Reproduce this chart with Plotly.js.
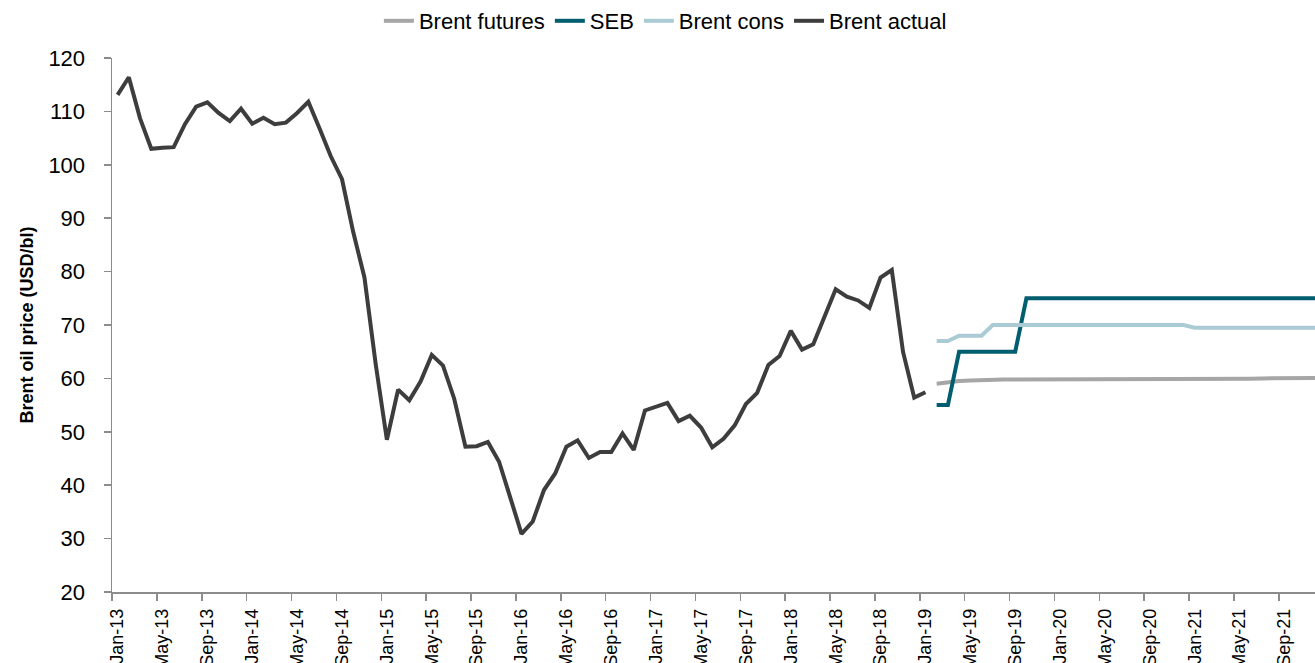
<!DOCTYPE html>
<html>
<head>
<meta charset="utf-8">
<script src="https://cdn.plot.ly/plotly-3.0.1.min.js"></script>
<style>
  html, body { margin: 0; padding: 0; background: #ffffff; overflow: hidden; }
  #chart { width: 1315px; height: 663px; }
</style>
</head>
<body>
<div id="chart"></div>
<script>
// Monthly Brent price history, Jan-13 .. Jan-19 (USD/bl)
const actualPrices = [
  113.1, 116.4, 108.7, 103.0, 103.2, 103.3, 107.6, 110.9, 111.7, 109.7, 108.2, 110.5,
  107.7, 108.8, 107.6, 107.9, 109.7, 111.8, 106.8, 101.6, 97.3, 87.4, 78.9, 62.7,
  48.5, 57.9, 55.9, 59.4, 64.4, 62.4, 56.2, 47.2, 47.3, 48.1, 44.4, 37.8,
  30.9, 33.2, 39.1, 42.2, 47.2, 48.4, 45.1, 46.2, 46.2, 49.7, 46.6, 54.0,
  54.8, 55.4, 52.0, 53.0, 50.8, 47.1, 48.7, 51.2, 55.2, 57.3, 62.5, 64.2,
  68.9, 65.4, 66.4, 71.6, 76.7, 75.3, 74.6, 73.2, 78.9, 80.3, 65.0, 56.4,
  57.4
];

// Forecast paths, Feb-19 .. Dec-21
const forecastStartMonth = 73; // months after Jan-13
const futuresPrices = [
  59.0, 59.3, 59.5, 59.6, 59.7, 59.75, 59.8, 59.8, 59.8, 59.8, 59.8,
  59.8, 59.8, 59.8, 59.8, 59.8, 59.8, 59.8, 59.8, 59.8, 59.8, 59.8, 59.8,
  59.8, 59.85, 59.9, 59.9, 59.95, 59.95, 60.0, 60.0, 60.0, 60.05, 60.05, 60.1
];
const sebForecast = [
  55, 55, 65, 65, 65, 65, 65, 65, 75, 75, 75,
  75, 75, 75, 75, 75, 75, 75, 75, 75, 75, 75, 75,
  75, 75, 75, 75, 75, 75, 75, 75, 75, 75, 75, 75
];
const consensusForecast = [
  67, 67, 68, 68, 68, 70, 70, 70, 70, 70, 70,
  70, 70, 70, 70, 70, 70, 70, 70, 70, 70, 70, 70,
  69.5, 69.5, 69.5, 69.5, 69.5, 69.5, 69.5, 69.5, 69.5, 69.5, 69.5, 69.5
];

// Category labels, one every four months
const tickLabels = [
  "Jan-13", "May-13", "Sep-13", "Jan-14", "May-14", "Sep-14", "Jan-15", "May-15", "Sep-15",
  "Jan-16", "May-16", "Sep-16", "Jan-17", "May-17", "Sep-17", "Jan-18", "May-18", "Sep-18",
  "Jan-19", "May-19", "Sep-19", "Jan-20", "May-20", "Sep-20", "Jan-21", "May-21", "Sep-21"
];
const monthsPerLabel = 4;

const actualX = actualPrices.map((_, i) => i);
const forecastX = futuresPrices.map((_, i) => forecastStartMonth + i);
const labelPositions = tickLabels.map((_, i) => i * monthsPerLabel);
const boundaryPositions = labelPositions.map(v => v - 0.5);

const axisGray = "#8c8c8c";
const baseFamily = "Liberation Sans, Arial, sans-serif";
const legendFont = { family: baseFamily, size: 22, color: "#000000" };
const yTickFont = { family: baseFamily, size: 22, color: "#000000" };
const xTickFont = { family: baseFamily, size: 18, color: "#000000" };

const traces = [
  { x: forecastX, y: futuresPrices, name: "Brent futures", type: "scatter", mode: "lines",
    line: { color: "#a6a6a6", width: 4 } },
  { x: forecastX, y: sebForecast, name: "SEB", type: "scatter", mode: "lines",
    line: { color: "#005e6e", width: 4 } },
  { x: forecastX, y: consensusForecast, name: "Brent cons", type: "scatter", mode: "lines",
    line: { color: "#aacbd3", width: 4 } },
  { x: actualX, y: actualPrices, name: "Brent actual", type: "scatter", mode: "lines",
    line: { color: "#3d3d3d", width: 4 } }
];

const layout = {
  width: 1315,
  height: 663,
  margin: { l: 112, r: 0, t: 58, b: 71 },
  paper_bgcolor: "#ffffff",
  plot_bgcolor: "#ffffff",
  font: legendFont,
  showlegend: true,
  legend: {
    orientation: "h",
    xref: "container", x: 0.506, xanchor: "center",
    yref: "container", y: 1.0, yanchor: "top",
    font: legendFont,
    itemwidth: 30,
    tracegroupgap: 0
  },
  xaxis: {
    type: "linear",
    range: [-0.5, 106.72],
    showgrid: false,
    zeroline: false,
    showline: true,
    linecolor: axisGray,
    linewidth: 1.5,
    tickmode: "array",
    tickvals: labelPositions,
    ticktext: tickLabels,
    ticks: "",
    tickangle: -90,
    tickfont: xTickFont,
    ticklabelstandoff: 8,
    minor: {
      tickmode: "array",
      tickvals: boundaryPositions,
      ticks: "outside",
      ticklen: 7,
      tickwidth: 1.5,
      tickcolor: axisGray,
      showgrid: false
    },
    fixedrange: true
  },
  yaxis: {
    range: [20, 120],
    tickmode: "linear",
    tick0: 20,
    dtick: 10,
    showgrid: false,
    zeroline: false,
    showline: true,
    linecolor: axisGray,
    linewidth: 1.5,
    ticks: "outside",
    ticklen: 7,
    tickwidth: 1.5,
    tickcolor: axisGray,
    tickfont: yTickFont,
    ticklabelstandoff: 14,
    title: {
      text: "Brent oil price (USD/bl)",
      font: { family: baseFamily, size: 18, weight: "bold", color: "#000000" },
      standoff: 10
    },
    fixedrange: true
  }
};

Plotly.newPlot("chart", traces, layout, { displayModeBar: false, staticPlot: true });
</script>
</body>
</html>
